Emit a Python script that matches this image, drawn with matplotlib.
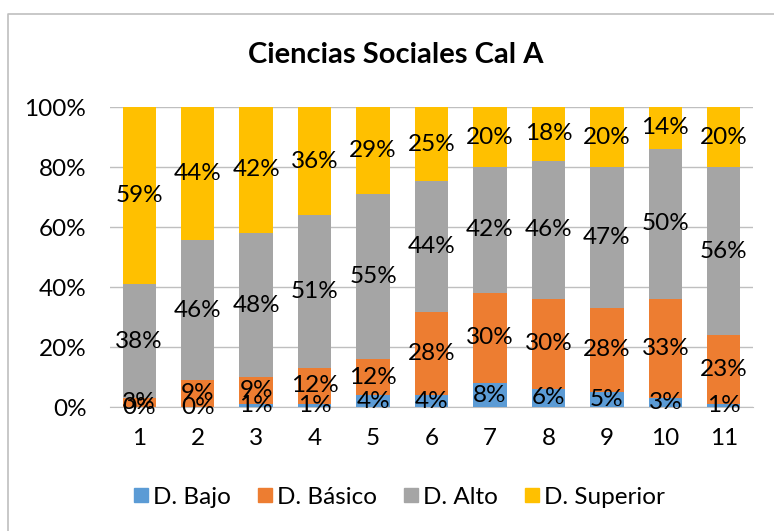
import matplotlib
matplotlib.use("Agg")
import matplotlib.pyplot as plt
import numpy as np
from matplotlib.lines import Line2D
from matplotlib.ticker import FuncFormatter

plt.rcParams['font.family'] = ['Lato', 'DejaVu Sans']

categories = ['1', '2', '3', '4', '5', '6', '7', '8', '9', '10', '11']
series_names = ['D. Bajo', 'D. Básico', 'D. Alto', 'D. Superior']
bajo = [0, 0, 1, 1, 4, 4, 8, 6, 5, 3, 1]
basico = [3, 9, 9, 12, 12, 28, 30, 30, 28, 33, 23]
alto = [38, 46, 48, 51, 55, 44, 42, 46, 47, 50, 56]
superior = [59, 44, 42, 36, 29, 25, 20, 18, 20, 14, 20]
colors = ['#5B9BD5', '#ED7D31', '#A5A5A5', '#FFC000']
title = 'Ciencias Sociales Cal A'

data = np.array([bajo, basico, alto, superior], dtype=float)
totals = data.sum(axis=0)
frac = data / totals

fig = plt.figure(figsize=(7.74, 5.31), dpi=100)
ax = fig.add_axes([110/774, 1-407/531, (753-110)/774, 300/531])

FS = 17.5
x = np.arange(1, len(categories) + 1)
bottom = np.zeros(len(categories))
for i, name in enumerate(series_names):
    ax.bar(x, frac[i], width=0.57, bottom=bottom, color=colors[i], label=name, zorder=2)
    for xi, b, h, v in zip(x, bottom, frac[i], data[i]):
        ax.text(xi, b + h/2, f"{int(v)}%", ha='center', va='center', fontsize=FS, color='black', zorder=3)
    bottom += frac[i]

ax.set_xlim(0.5, len(categories) + 0.5)
ax.set_ylim(0, 1)
ax.set_yticks(np.linspace(0, 1, 6))
ax.yaxis.set_major_formatter(FuncFormatter(lambda v, p: f"{int(round(v*100))}%"))
ax.set_xticks(x)
ax.set_xticklabels(categories)
ax.tick_params(axis='both', length=0, labelsize=FS, colors='black')
ax.tick_params(axis='x', pad=15)
ax.tick_params(axis='y', pad=17)
ax.grid(axis='y', color='#BFBFBF', linewidth=1, zorder=0)
for s in ['top', 'right', 'left']:
    ax.spines[s].set_visible(False)
ax.spines['bottom'].set_color('#BFBFBF')
ax.spines['bottom'].set_zorder(1)

fig.text(396/774, 1-55/531, title, ha='center', va='center', fontsize=21, fontweight='bold')

handles = [Line2D([0], [0], marker='s', linestyle='none', markersize=10,
                  markerfacecolor=c, markeredgecolor=c) for c in colors]
fig.legend(handles, series_names, loc='center', bbox_to_anchor=(398/774, 1-497/531),
           ncol=4, frameon=False, fontsize=FS, handletextpad=0.1, columnspacing=1.0,
           handlelength=0.8)

# chart border (top and left visible)
fig.add_artist(Line2D([8/774, 8/774, 1.0], [0.0, 1-14/531, 1-14/531],
                      transform=fig.transFigure, color='#BFBFBF', linewidth=1.2))

fig.savefig('out.png', dpi=100)
